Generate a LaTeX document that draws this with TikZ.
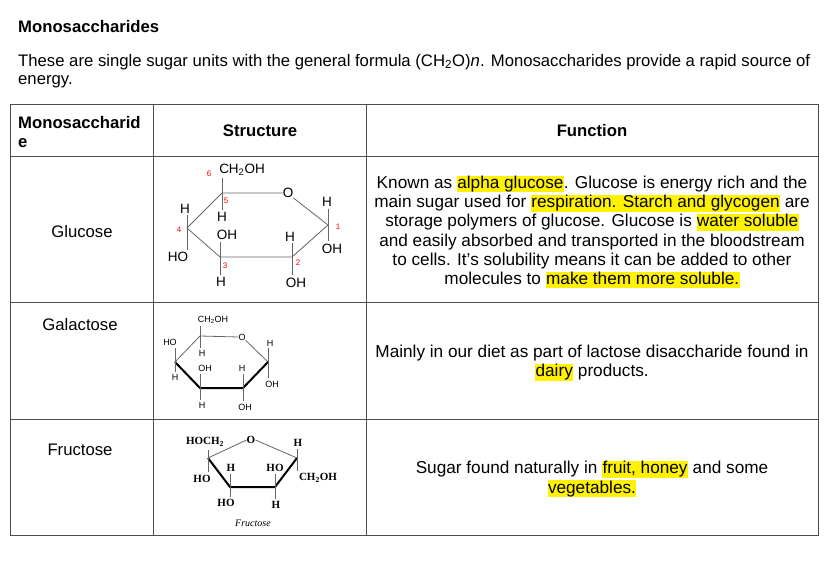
\documentclass[tikz,border=0pt]{standalone}
\usepackage{fontspec}
\setmainfont{Liberation Sans}
\newfontfamily\serifb{Liberation Serif}
\newcommand\hl[1]{{\setlength\fboxsep{0.3pt}\colorbox{yellow}{\vphantom{Ay}#1}}}
\begin{document}
\begin{tikzpicture}[x=1pt,y=-1pt,
  txt/.style={inner sep=0pt,font=\fontsize{16.7}{20}\selectfont},
  fn/.style={inner sep=0pt,font=\fontsize{17.2}{19.2}\selectfont,align=center},
  atm/.style={inner sep=0pt,font=\fontsize{13.5}{13}\selectfont},
  num/.style={inner sep=0pt,text=red,font=\fontsize{8}{8}\selectfont},
  ga/.style={inner sep=0pt,font=\fontsize{9}{9}\selectfont},
  fr/.style={inner sep=0pt,font=\serifb\bfseries\fontsize{11}{11}\selectfont},
  bond/.style={draw=gray!80!black,line width=0.8pt},
  tbond/.style={draw=black,line width=2pt,line join=round},
  grid/.style={draw=gray!60!black,line width=0.8pt}]
\useasboundingbox (0,0) rectangle (828,562);
\node[txt,anchor=west,font=\bfseries\fontsize{16.7}{20}\selectfont] (title) at (18,27) {Monosaccharides};
\node[txt,anchor=west] (p1) at (18,62) {These are single sugar units with the general formula (CH\textsubscript{2}O)\textit{n}. Monosaccharides provide a rapid source of};
\node[txt,anchor=west] (p2) at (18,82) {energy.};
% table
\draw[grid] (10,104) rectangle (818,535);
\draw[grid] (10,156) -- (818,156) (10,302) -- (818,302) (10,419) -- (818,419);
\draw[grid] (153,104) -- (153,535) (366,104) -- (366,535);
\node[txt,anchor=west,align=left,font=\bfseries\fontsize{16.7}{19}\selectfont] (h1) at (18,132) {Monosaccharid\\e};
\node[txt,font=\bfseries\fontsize{16.7}{20}\selectfont] (h2) at (260,131) {Structure};
\node[txt,font=\bfseries\fontsize{16.7}{20}\selectfont] (h3) at (592,131) {Function};
\node[txt] (glu) at (82,232) {Glucose};
\node[txt] (gal) at (80,325) {Galactose};
\node[txt] (fru) at (80,450) {Fructose};
\node[fn] (f1) at (592,232) {Known as \hl{alpha glucose}. Glucose is energy rich and the\\main sugar used for \hl{respiration. Starch and glycogen} are\\storage polymers of glucose. Glucose is \hl{water soluble}\\and easily absorbed and transported in the bloodstream\\to cells. It's solubility means it can be added to other\\molecules to \hl{make them more soluble.}};
\node[fn] (f2) at (592,363) {Mainly in our diet as part of lactose disaccharide found in\\ \hl{dairy} products.};
\node[fn] (f3) at (592,479) {Sugar found naturally in \hl{fruit, honey} and some\\ \hl{vegetables.}};
% glucose
\coordinate (c5) at (222,193); \coordinate (c1) at (328,225);
\coordinate (c2) at (292,257); \coordinate (c3) at (220,257); \coordinate (c4) at (187,228);
\node[atm] (go) at (288,193) {O};
\draw[bond] (c5) -- (go.west) (go.south east) -- (c1) -- (c2) -- (c3) -- (c4) -- (c5);
\node[atm] (g6) at (242,170) {CH\textsubscript{2}OH};
\node[num] at (209,174) {6};
\draw[bond] (222,178) -- (222,210);
\node[atm] at (222,217) {H};
\node[num] at (226,201) {5};
\node[atm] at (185,209) {H}; \node[atm] at (178,257) {HO};
\draw[bond] (187,215) -- (187,250);
\node[num] at (179,230) {4};
\node[atm] at (227,235) {OH}; \node[atm] at (221,282) {H};
\draw[bond] (220,242) -- (220,275);
\node[num] at (225,266) {3};
\node[atm] at (290,237) {H}; \node[atm] at (296,283) {OH};
\draw[bond] (292,243) -- (292,275);
\node[num] at (298,263) {2};
\node[atm] at (327,202) {H}; \node[atm] at (332,249) {OH};
\draw[bond] (328,209) -- (328,241);
\node[num] at (338,227) {1};
% galactose
\coordinate (a5) at (200,336); \coordinate (a1) at (268,362);
\coordinate (a2) at (243,388); \coordinate (a3) at (200,388); \coordinate (a4) at (175,362);
\node[ga] (ao) at (242,337) {O};
\draw[bond] (a4) -- (a5) -- (ao.west) (ao.south east) -- (a1);
\draw[tbond] (a4) -- (a3) -- (a2) -- (a1);
\node[ga] at (213,320) {CH\textsubscript{2}OH};
\draw[bond] (200,326) -- (200,348);
\node[ga] at (202,353) {H};
\node[ga] at (170,342) {HO}; \node[ga] at (175,377) {H};
\draw[bond] (175,348) -- (175,372);
\node[ga] at (205,368) {OH}; \node[ga] at (202,405) {H};
\draw[bond] (200,374) -- (200,400);
\node[ga] at (242,368) {H}; \node[ga] at (245,407) {OH};
\draw[bond] (243,374) -- (243,401);
\node[ga] at (270,343) {H}; \node[ga] at (272,384) {OH};
\draw[bond] (268,348) -- (268,378);
% fructose
\coordinate (b2) at (208,458); \coordinate (b3) at (230,487);
\coordinate (b4) at (275,487); \coordinate (b5) at (297,458);
\node[fr] (bo) at (251,440) {O};
\draw[bond] (b2) -- (bo.west) (bo.east) -- (b5);
\draw[tbond] (b2) -- (b3) -- (b4) -- (b5);
\node[fr] at (205,442) {HOCH\textsubscript{2}};
\node[fr] at (202,479) {HO};
\draw[bond] (208,450) -- (208,472);
\node[fr] at (231,468) {H}; \node[fr] at (226,503) {HO};
\draw[bond] (230,474) -- (230,497);
\node[fr] at (275,468) {HO}; \node[fr] at (276,505) {H};
\draw[bond] (275,474) -- (275,499);
\node[fr] at (298,443) {H}; \node[fr] at (318,478) {CH\textsubscript{2}OH};
\draw[bond] (297,449) -- (297,471);
\node[inner sep=0pt,font=\serifb\itshape\fontsize{10}{10}\selectfont] at (253,523) {Fructose};
\end{tikzpicture}
\end{document}
